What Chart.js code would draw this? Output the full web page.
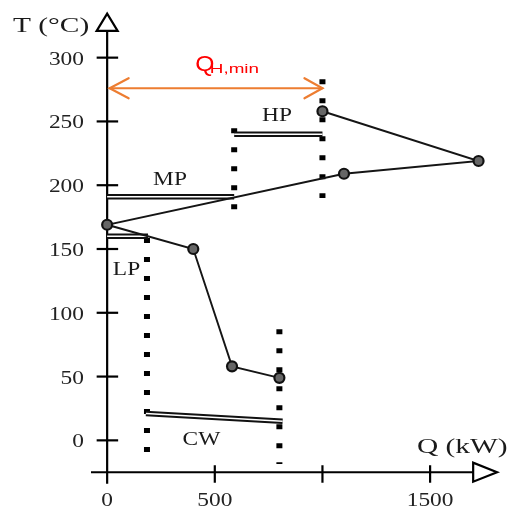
<!DOCTYPE html>
<html><head><meta charset="utf-8">
<script src="https://cdn.jsdelivr.net/npm/chart.js@4"></script>
<style>html,body{margin:0;padding:0;background:#fff;}canvas{display:block;}</style>
</head><body>
<canvas id="c" width="509" height="510"></canvas>
<script>
// Grand composite curve (Q in kW, T in °C)
const gccQ = [800, 580, 400, 0, 1100, 1725, 1000];
const gccT = [49, 58, 150, 169, 209, 219, 258];

// Utility levels (double lines)
const utilityNames = ['HP', 'MP', 'LP', 'CW'];
const utilityQStart = [590, 0, 0, 180];
const utilityQEnd = [1000, 590, 190, 815];
const utilityTStart = [240, 191, 160, 21];
const utilityTEnd = [240, 191, 160, 15];

// Vertical dotted lines
const dottedQ = [185, 590, 1000, 800];
const dottedTTop = [158.6, 244.6, 283, 87];
const dottedTBottom = [-9.5, 181, 190, -18.5];

// Minimum hot utility arrow
const qhMinQ = [0, 1000];
const qhMinT = 276;

// Axes
const xTicks = [0, 500, 1000, 1500];
const xTickLabels = ['0', '500', '', '1500'];
const yTicks = [0, 50, 100, 150, 200, 250, 300];
const yTickLabels = ['0', '50', '100', '150', '200', '250', '300'];
const xAxisTitle = 'Q (kW)';
const yAxisTitle = 'T (°C)';

// label anchors (Q, T) for utility names
const labelAnchors = {HP: [789, 250], MP: [292, 200], LP: [90, 130], CW: [438, -3.6]};

const datasets = [];
datasets.push({
  data: gccQ.map((q, i) => ({x: q, y: gccT[i]})),
  showLine: true, borderColor: '#151515', borderWidth: 1.9,
  pointRadius: 5, pointBackgroundColor: '#666', pointBorderColor: '#111', pointBorderWidth: 2.2,
  order: 0
});
utilityNames.forEach((n, i) => {
  const d = [{x: utilityQStart[i], y: utilityTStart[i]}, {x: utilityQEnd[i], y: utilityTEnd[i]}];
  datasets.push({data: d, showLine: true, borderColor: '#111', borderWidth: 5.5, pointRadius: 0, borderCapStyle: 'butt', order: 2});
  datasets.push({data: d.map(p => ({...p})), showLine: true, borderColor: '#fff', borderWidth: 1.6, pointRadius: 0, borderCapStyle: 'butt', order: 1});
});
dottedQ.forEach((q, i) => {
  datasets.push({data: [{x: q, y: dottedTTop[i]}, {x: q, y: dottedTBottom[i]}], showLine: true,
    borderColor: '#000', borderWidth: 6, borderDash: [5, 14], borderCapStyle: 'butt', pointRadius: 0, order: 3});
});

function stretchText(ctx, str, x, y, font, sx, align, color) {
  ctx.save();
  ctx.font = font; ctx.fillStyle = color; ctx.textAlign = align; ctx.textBaseline = 'alphabetic';
  ctx.translate(x, y); ctx.scale(sx, 1);
  ctx.fillText(str, 0, 0);
  ctx.restore();
}

const axesPlugin = {
  id: 'axesPlugin',
  beforeDatasetsDraw(chart) {
    const ctx = chart.ctx, xs = chart.scales.x, ys = chart.scales.y;
    const x0 = xs.getPixelForValue(0), yA = ys.getPixelForValue(-25);
    ctx.save();
    ctx.strokeStyle = '#000'; ctx.lineWidth = 2.2; ctx.lineCap = 'butt';
    // y axis
    const yTop = ys.getPixelForValue(321), yTip = ys.getPixelForValue(334.5);
    ctx.beginPath(); ctx.moveTo(x0, ys.getPixelForValue(-34)); ctx.lineTo(x0, yTop); ctx.stroke();
    ctx.beginPath(); ctx.moveTo(x0 - 10.5, yTop); ctx.lineTo(x0 + 10.5, yTop); ctx.lineTo(x0, yTip); ctx.closePath();
    ctx.fillStyle = '#fff'; ctx.fill(); ctx.stroke();
    // x axis
    const xEnd = xs.getPixelForValue(1700), xTip = xs.getPixelForValue(1811);
    ctx.beginPath(); ctx.moveTo(xs.getPixelForValue(-75), yA); ctx.lineTo(xEnd, yA); ctx.stroke();
    ctx.beginPath(); ctx.moveTo(xEnd, yA - 9.5); ctx.lineTo(xEnd, yA + 9.5); ctx.lineTo(xTip, yA); ctx.closePath();
    ctx.fill(); ctx.stroke();
    // ticks
    yTicks.forEach(v => { const y = ys.getPixelForValue(v); ctx.beginPath(); ctx.moveTo(x0 - 10.5, y); ctx.lineTo(x0 + 11, y); ctx.stroke(); });
    xTicks.forEach(v => { if (v === 0) return; const x = xs.getPixelForValue(v); ctx.beginPath(); ctx.moveTo(x, yA - 7); ctx.lineTo(x, yA + 10.5); ctx.stroke(); });
    ctx.restore();
  },
  afterDatasetsDraw(chart) {
    const ctx = chart.ctx, xs = chart.scales.x, ys = chart.scales.y;
    const serif = '"Liberation Serif", "Times New Roman", serif';
    yTicks.forEach((v, i) => stretchText(ctx, yTickLabels[i], 84, ys.getPixelForValue(v) + 7, '18px ' + serif, 1.3, 'right', '#222'));
    xTicks.forEach((v, i) => stretchText(ctx, xTickLabels[i], xs.getPixelForValue(v), 506, '18px ' + serif, 1.3, 'center', '#222'));
    stretchText(ctx, yAxisTitle, 13, 32, '21px ' + serif, 1.4, 'left', '#1a1a1a');
    stretchText(ctx, xAxisTitle, 417, 453, '21px ' + serif, 1.4, 'left', '#1a1a1a');
    utilityNames.forEach(n => {
      const a = labelAnchors[n];
      stretchText(ctx, n, xs.getPixelForValue(a[0]), ys.getPixelForValue(a[1]), '18px ' + serif, 1.3, 'center', '#1a1a1a');
    });
    // Q_H,min arrow
    const ya = ys.getPixelForValue(qhMinT);
    const xl = xs.getPixelForValue(qhMinQ[0]) + 2.5, xr = xs.getPixelForValue(qhMinQ[1]);
    ctx.save();
    ctx.strokeStyle = '#ED7D31'; ctx.lineWidth = 2.2; ctx.lineCap = 'round'; ctx.lineJoin = 'miter';
    ctx.beginPath(); ctx.moveTo(xl, ya); ctx.lineTo(xr, ya); ctx.stroke();
    ctx.beginPath(); ctx.moveTo(xl + 19, ya - 10); ctx.lineTo(xl, ya); ctx.lineTo(xl + 19, ya + 10); ctx.stroke();
    ctx.beginPath(); ctx.moveTo(xr - 18, ya - 10); ctx.lineTo(xr, ya); ctx.lineTo(xr - 18, ya + 10); ctx.stroke();
    ctx.restore();
    const sans = '"Liberation Sans", Arial, sans-serif';
    const xq = (xs.getPixelForValue(qhMinQ[0]) + xs.getPixelForValue(qhMinQ[1])) / 2;
    stretchText(ctx, 'Q', xq - 19.5, ya - 17.5, '22px ' + sans, 1.12, 'left', '#FF0000');
    stretchText(ctx, 'H,min', xq - 5, ya - 15.5, '13px ' + sans, 1.45, 'left', '#FF0000');
  }
};

new Chart(document.getElementById('c'), {
  type: 'scatter',
  data: {datasets},
  options: {
    responsive: false, animation: false, devicePixelRatio: 1,
    layout: {padding: {left: 91, right: 10, top: 13, bottom: 25}},
    scales: {
      x: {type: 'linear', min: -75, max: 1820, display: false},
      y: {type: 'linear', min: -35, max: 335, display: false}
    },
    elements: {line: {tension: 0}},
    plugins: {legend: {display: false}, tooltip: {enabled: false}},
    datasets: {scatter: {clip: false}}
  },
  plugins: [axesPlugin]
});
</script>
</body></html>
